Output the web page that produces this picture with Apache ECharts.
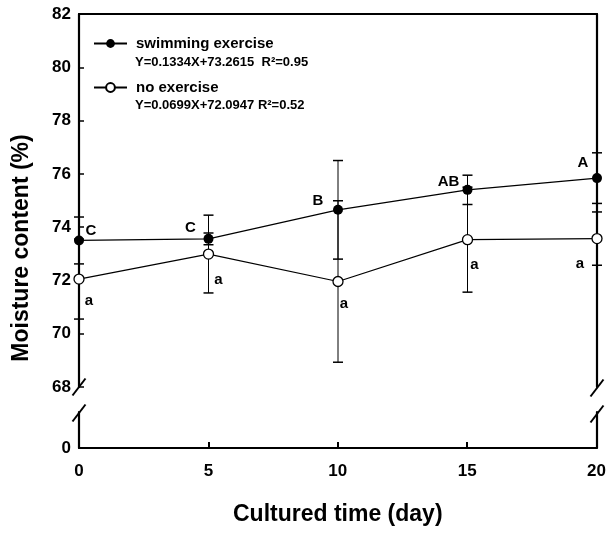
<!DOCTYPE html>
<html>
<head>
<meta charset="utf-8">
<script src="https://cdn.jsdelivr.net/npm/echarts@6/dist/echarts.min.js"></script>
<style>
  html, body { margin: 0; padding: 0; background: #fff; }
  #chart_box { width: 609px; height: 534px; }
</style>
</head>
<body>
<div id="chart_box"></div>
<script>
// values
const days = [0, 5, 10, 15, 20]
const swimMean = [73.5, 73.56, 74.65, 75.4, 75.84]
const swimErr = [0.88, 0.22, 1.85, 0.55, 0.95]
const noExMean = [72.05, 72.99, 71.96, 73.53, 73.57]
const noExErr = [1.5, 1.46, 3.03, 1.97, 1.0]
const swimLetters = ['C', 'C', 'B', 'AB', 'A']
const noExLetters = ['a', 'a', 'a', 'a', 'a']
const xTicks = [0, 5, 10, 15, 20]
const yTicks = [68, 70, 72, 74, 76, 78, 80, 82]
const seriesNames = ['swimming exercise', 'no exercise']
const equations = ['Y=0.1334X+73.2615  R\u00b2=0.95', 'Y=0.0699X+72.0947 R\u00b2=0.52']

// layout (pixels)
const L = 79, R = 597, TOP = 14, BRK_TOP = 387, BRK_BOT = 412, BASE = 448
const FONT = '"Liberation Sans", Arial, sans-serif'
const swimLabelOffset = [[12, -10], [-18, -11], [-20, -9], [-19, -8], [-14, -15]]
const noExLabelOffset = [[10, 22], [10, 26], [6, 22], [7, 25], [-17, 25]]

const chartDom = document.getElementById('chart_box')
var myChart = echarts.init(chartDom)
var option

function errData(mean, err) {
  return days.map((d, i) => [d, mean[i] - err[i], mean[i] + err[i]])
}

function renderErr(params, api) {
  const x = api.value(0)
  const top = api.coord([x, api.value(2)])
  const bot = api.coord([x, api.value(1)])
  const st = { stroke: '#000', lineWidth: 1 }
  return {
    type: 'group',
    children: [
      { type: 'line', shape: { x1: top[0], y1: top[1], x2: bot[0], y2: bot[1] }, style: st },
      { type: 'line', shape: { x1: top[0] - 5, y1: top[1], x2: top[0] + 5, y2: top[1] }, style: { stroke: '#000', lineWidth: 1.5 } },
      { type: 'line', shape: { x1: bot[0] - 5, y1: bot[1], x2: bot[0] + 5, y2: bot[1] }, style: { stroke: '#000', lineWidth: 1.5 } }
    ]
  }
}

function pointData(mean, letters, offsets) {
  return days.map((d, i) => ({
    value: [d, mean[i]],
    label: { formatter: letters[i], offset: offsets[i] }
  }))
}

const pointLabel = {
  show: true,
  position: 'inside',
  color: '#000',
  fontFamily: FONT,
  fontWeight: 'bold',
  fontSize: 15
}

function slash(cx, cy) {
  return {
    type: 'line',
    shape: { x1: cx - 6.5, y1: cy + 8.5, x2: cx + 6.5, y2: cy - 8.5 },
    style: { stroke: '#000', lineWidth: 2 }
  }
}

const axisLine = { show: true, onZero: false, lineStyle: { color: '#000', width: 2.2 } }
const noSplit = { show: false }

option = {
  animation: false,
  backgroundColor: '#fff',
  grid: [
    { left: L, right: 609 - R, top: TOP, height: BRK_TOP - TOP },
    { left: L, right: 609 - R, top: BRK_BOT, height: BASE - BRK_BOT }
  ],
  legend: [
    {
      data: [seriesNames[0]], orient: 'vertical', left: 93, top: 36, padding: 0,
      itemWidth: 33, itemHeight: 11,
      textStyle: { fontFamily: FONT, fontWeight: 'bold', fontSize: 15, color: '#000', padding: [0, 0, 0, 4] }
    },
    {
      data: [seriesNames[1]], orient: 'vertical', left: 93, top: 80, padding: 0,
      itemWidth: 33, itemHeight: 11,
      textStyle: { fontFamily: FONT, fontWeight: 'bold', fontSize: 15, color: '#000', padding: [0, 0, 0, 4] }
    }
  ],
  xAxis: [
    {
      gridIndex: 0, type: 'value', position: 'top', min: xTicks[0], max: xTicks[xTicks.length - 1],
      interval: 5, axisLine: axisLine, axisTick: { show: false }, axisLabel: { show: false }, splitLine: noSplit
    },
    {
      gridIndex: 1, type: 'value', position: 'bottom', min: xTicks[0], max: xTicks[xTicks.length - 1],
      interval: 5, axisLine: axisLine,
      axisTick: { show: true, inside: true, length: 6, lineStyle: { color: '#000', width: 2 } },
      axisLabel: { color: '#000', fontFamily: FONT, fontWeight: 'bold', fontSize: 17, margin: 15 },
      splitLine: noSplit,
      name: 'Cultured time (day)', nameLocation: 'middle', nameGap: 55,
      nameTextStyle: { color: '#000', fontFamily: FONT, fontWeight: 'bold', fontSize: 23 }
    }
  ],
  yAxis: [
    {
      gridIndex: 0, type: 'value', position: 'left', min: yTicks[0], max: yTicks[yTicks.length - 1],
      interval: 2, axisLine: axisLine,
      axisTick: { show: true, inside: true, length: 5, lineStyle: { color: '#000', width: 1.5 } },
      axisLabel: { color: '#000', fontFamily: FONT, fontWeight: 'bold', fontSize: 17, margin: 8 },
      splitLine: noSplit
    },
    {
      gridIndex: 0, type: 'value', position: 'right', min: yTicks[0], max: yTicks[yTicks.length - 1],
      axisLine: axisLine, axisTick: { show: false }, axisLabel: { show: false }, splitLine: noSplit
    },
    {
      gridIndex: 1, type: 'value', position: 'left', min: 0, max: 1, interval: 1,
      axisLine: axisLine, axisTick: { show: false },
      axisLabel: {
        color: '#000', fontFamily: FONT, fontWeight: 'bold', fontSize: 17, margin: 8,
        formatter: v => (v === 0 ? '0' : '')
      },
      splitLine: noSplit
    },
    {
      gridIndex: 1, type: 'value', position: 'right', min: 0, max: 1,
      axisLine: axisLine, axisTick: { show: false }, axisLabel: { show: false }, splitLine: noSplit
    }
  ],
  graphic: [
    {
      type: 'text', x: 22, y: 248, rotation: Math.PI / 2,
      style: {
        text: 'Moisture content (%)', font: 'bold 23px ' + FONT, fill: '#000',
        textAlign: 'center', textVerticalAlign: 'middle'
      }
    },
    {
      type: 'text', x: 135, y: 62,
      style: { text: equations[0], font: 'bold 13px ' + FONT, fill: '#000', textVerticalAlign: 'middle' }
    },
    {
      type: 'text', x: 135, y: 105,
      style: { text: equations[1], font: 'bold 13px ' + FONT, fill: '#000', textVerticalAlign: 'middle' }
    },
    slash(L, BRK_TOP),
    slash(L, BRK_BOT + 1),
    slash(R, BRK_TOP + 1),
    slash(R, BRK_BOT + 2)
  ],
  series: [
    {
      type: 'custom', name: 'swimErr', xAxisIndex: 0, yAxisIndex: 0, z: 1,
      renderItem: renderErr, data: errData(swimMean, swimErr), silent: true
    },
    {
      type: 'custom', name: 'noExErr', xAxisIndex: 0, yAxisIndex: 0, z: 1,
      renderItem: renderErr, data: errData(noExMean, noExErr), silent: true
    },
    {
      name: seriesNames[0], type: 'line', xAxisIndex: 0, yAxisIndex: 0, z: 3,
      symbol: 'circle', symbolSize: 10,
      itemStyle: { color: '#000' },
      lineStyle: { color: '#000', width: 1.2 },
      label: pointLabel,
      data: pointData(swimMean, swimLetters, swimLabelOffset)
    },
    {
      name: seriesNames[1], type: 'line', xAxisIndex: 0, yAxisIndex: 0, z: 3,
      symbol: 'circle', symbolSize: 10,
      itemStyle: { color: '#fff', borderColor: '#000', borderWidth: 1.3 },
      lineStyle: { color: '#000', width: 1.2 },
      label: pointLabel,
      data: pointData(noExMean, noExLetters, noExLabelOffset)
    }
  ]
}

option && myChart.setOption(option)
</script>
</body>
</html>
